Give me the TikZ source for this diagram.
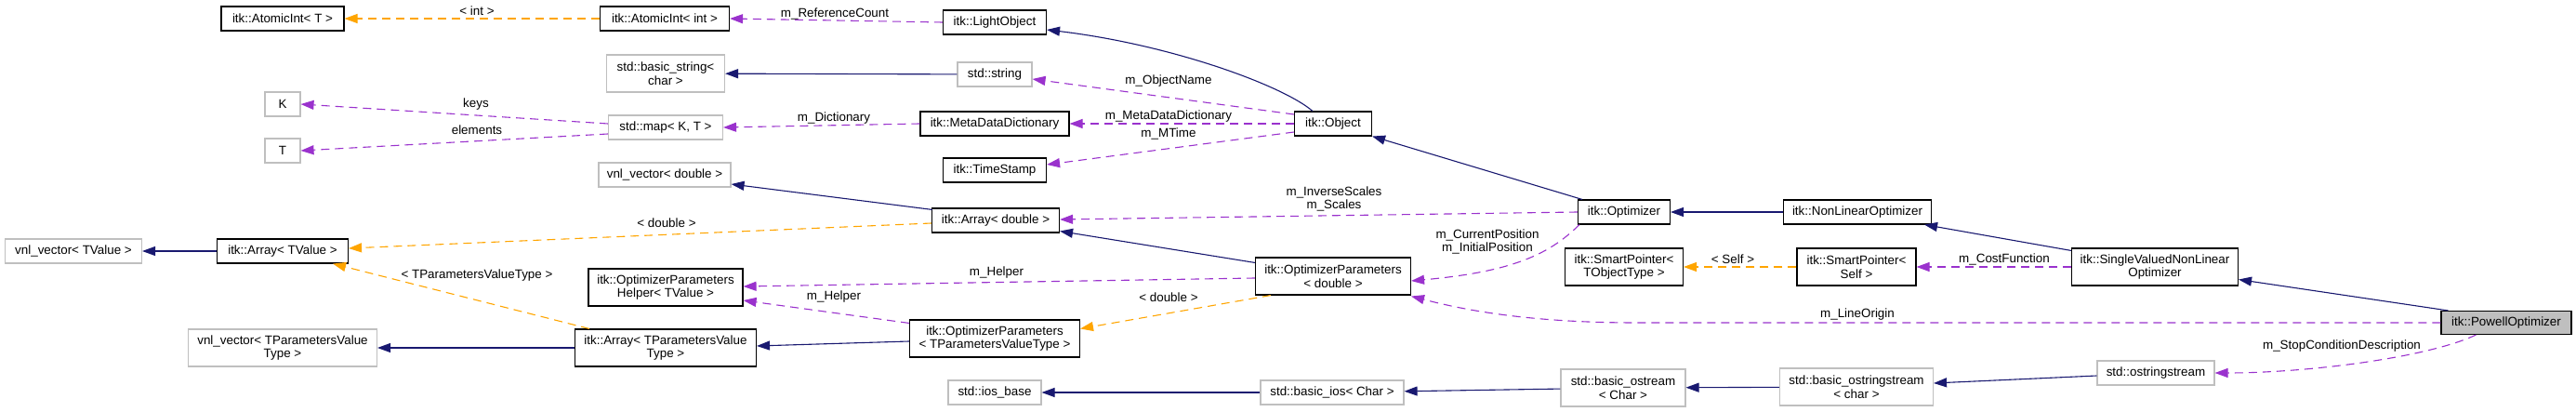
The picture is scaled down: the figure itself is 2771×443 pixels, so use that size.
\documentclass[tikz,border=0pt]{standalone}
\usepackage{fontspec}
\setmainfont{Liberation Sans}
\usetikzlibrary{arrows.meta,calc}
\definecolor{navyc}{HTML}{191970}
\definecolor{mpurple}{HTML}{9A32CD}
\definecolor{morange}{HTML}{FFA500}
\definecolor{ugrey}{HTML}{BFBFBF}
\begin{document}
\begin{tikzpicture}[x=1pt,y=-1pt,
  font=\fontsize{13.4}{14.5}\selectfont,
  box/.style={draw=black, line width=1.1pt, fill=white, inner sep=0pt, align=center, minimum height=26pt},
  twoline/.style={minimum height=40pt},
  undoc/.style={box, draw=ugrey},
  doc/.style={box},
  tip/.style={-{Triangle[length=14pt,width=10pt]}},
  inh/.style={draw=navyc, line width=1.1pt, tip},
  mem/.style={draw=mpurple, line width=1.1pt, dash pattern=on 9pt off 6pt, tip},
  tmpl/.style={draw=morange, line width=1.1pt, dash pattern=on 9pt off 6pt, tip},
  lbl/.style={inner sep=0pt, align=center}]
\useasboundingbox (0,0) rectangle (2771,443);

% nodes
\node[doc, minimum width=132pt] (atomT) at (304,20) {itk::AtomicInt< T >};
\node[doc, minimum width=139pt] (atomI) at (715,20) {itk::AtomicInt< int >};
\node[doc, minimum width=111pt] (light) at (1070,24) {itk::LightObject};
\node[undoc, twoline, minimum width=127pt] (bstr) at (716,79) {std::basic\_string<\\char >};
\node[undoc, minimum width=80pt] (str) at (1070,80) {std::string};
\node[undoc, minimum width=38pt] (K) at (304,112) {K};
\node[undoc, minimum width=38pt] (T) at (304,162) {T};
\node[undoc, minimum width=123pt] (map) at (716,137) {std::map< K, T >};
\node[doc, minimum width=160pt] (mdd) at (1070,133) {itk::MetaDataDictionary};
\node[doc, minimum width=83pt] (obj) at (1434,133) {itk::Object};
\node[doc, minimum width=111pt] (ts) at (1070,183) {itk::TimeStamp};
\node[undoc, minimum width=142pt] (vnld) at (715,188) {vnl\_vector< double >};
\node[doc, minimum width=137pt] (arrd) at (1071,237) {itk::Array< double >};
\node[undoc, minimum width=147pt] (vnlT) at (79,270) {vnl\_vector< TValue >};
\node[doc, minimum width=141pt] (arrT) at (304,270) {itk::Array< TValue >};
\node[doc, twoline, minimum width=166pt] (helper) at (716,309) {itk::OptimizerParameters\\Helper< TValue >};
\node[doc, twoline, minimum width=167pt] (opd) at (1434,297) {itk::OptimizerParameters\\< double >};
\node[doc, minimum width=99pt] (opt) at (1747,228) {itk::Optimizer};
\node[doc, minimum width=159pt] (nlo) at (1998,228) {itk::NonLinearOptimizer};
\node[doc, twoline, minimum width=127pt] (spT) at (1747,287) {itk::SmartPointer<\\TObjectType >};
\node[doc, twoline, minimum width=128pt] (spS) at (1997,287) {itk::SmartPointer<\\Self >};
\node[doc, twoline, minimum width=179pt] (svnlo) at (2318,287) {itk::SingleValuedNonLinear\\Optimizer};
\node[doc, minimum width=140pt, minimum height=25pt, fill=ugrey] (powell) at (2696,347) {itk::PowellOptimizer};
\node[undoc, twoline, minimum width=203pt] (vnlP) at (304,374) {vnl\_vector< TParametersValue\\Type >};
\node[doc, twoline, minimum width=195pt] (arrP) at (716,374) {itk::Array< TParametersValue\\Type >};
\node[doc, twoline, minimum width=183pt] (opP) at (1070,364) {itk::OptimizerParameters\\< TParametersValueType >};
\node[undoc, minimum width=100pt] (iosb) at (1070,422) {std::ios\_base};
\node[undoc, minimum width=154pt] (bios) at (1433,422) {std::basic\_ios< Char >};
\node[undoc, twoline, minimum width=134pt] (bos) at (1746,417) {std::basic\_ostream\\< Char >};
\node[undoc, twoline, minimum width=165pt] (boss) at (1997,416) {std::basic\_ostringstream\\< char >};
\node[undoc, minimum width=126pt] (oss) at (2319,401) {std::ostringstream};

% edges
\draw[tmpl] (atomI) -- (atomT);
\draw[mem] (light.west) -- (atomI.east);
\draw[inh] (str) -- (bstr);
\draw[inh] ($(obj.north west)+(20,0)$) .. controls (1380,92) and (1260,48) .. ($(light.east)+(0,8)$);
\draw[mem] ($(obj.west)+(0,-10)$) -- ($(str.east)+(0,5)$);
\draw[mem] (obj.west) -- (mdd.east);
\draw[mem] ($(obj.west)+(0,9)$) -- ($(ts.east)+(0,-6)$);
\draw[mem] (mdd.west) -- (map.east);
\draw[mem] ($(map.west)+(0,-4)$) -- (K.east);
\draw[mem] ($(map.west)+(0,7)$) -- (T.east);
\draw[inh] ($(arrd.north west)+(1,2)$) -- ($(vnld.east)+(0,10)$);
\draw[tmpl] ($(arrd.west)+(0,3)$) -- ($(arrT.east)+(0,-3)$);
\draw[inh] ($(opt.north west)+(5,0)$) -- (obj.south east);
\draw[mem] (opt.west) -- ($(arrd.east)+(0,-1)$);
\draw[mem] ($(opt.south west)+(2,0)$) .. controls (1668,272) and (1630,292) .. ($(opd.east)+(0,5)$);
\draw[inh] (nlo) -- (opt);
\draw[inh] ($(opd.north west)+(0,6)$) -- ($(arrd.south east)+(0,-2)$);
\draw[mem] ($(opd.west)+(0,2)$) -- ($(helper.east)+(0,-1)$);
\draw[tmpl] ($(opd.south west)+(17,0)$) -- ($(opP.north east)+(0,10)$);
\draw[mem] ($(opP.north west)+(0,4)$) -- ($(helper.east)+(0,14)$);
\draw[inh] ($(opP.west)+(0,3)$) -- ($(arrP.east)+(0,-2)$);
\draw[inh] (arrP) -- (vnlP);
\draw[tmpl] ($(arrP.north west)+(16,0)$) -- ($(arrT.south east)+(-17,0)$);
\draw[inh] (arrT) -- (vnlT);
\draw[tmpl] (spS) -- (spT);
\draw[inh] ($(svnlo.north west)+(0,3)$) -- ($(nlo.south east)+(-8,0)$);
\draw[mem] (svnlo.west) -- (spS.east);
\draw[inh] ($(powell.north west)+(8,0)$) -- ($(svnlo.south east)+(0,-7)$);
\coordinate (lo1) at (1760,347);
\draw[mem] (powell.west) -- (lo1) .. controls (1640,347) and (1570,332) .. ($(opd.south east)+(0,1)$);
\draw[mem] ($(powell.south west)+(38,0)$) .. controls (2610,385) and (2480,401) .. (oss.east);
\draw[inh] ($(oss.west)+(0,3)$) -- ($(boss.east)+(0,-4)$);
\draw[inh] (boss) -- (bos);
\draw[inh] (bos) -- (bios);
\draw[inh] (bios) -- (iosb);

% labels
\node[lbl] (l1) at (513,12) {< int >};
\node[lbl] (l2) at (898,15) {m\_ReferenceCount};
\node[lbl] (l3) at (1257,87) {m\_ObjectName};
\node[lbl] (l4) at (1257,125) {m\_MetaDataDictionary};
\node[lbl] (l5) at (1257,144) {m\_MTime};
\node[lbl] (l6) at (897,127) {m\_Dictionary};
\node[lbl] (l7) at (512,112) {keys};
\node[lbl] (l8) at (513,140) {elements};
\node[lbl] (l9) at (717,240) {< double >};
\node[lbl] (l10) at (1435,214) {m\_InverseScales\\m\_Scales};
\node[lbl] (l11) at (1600,260) {m\_CurrentPosition\\m\_InitialPosition};
\node[lbl] (l12) at (1072,293) {m\_Helper};
\node[lbl] (l13) at (897,319) {m\_Helper};
\node[lbl] (l14) at (1257,320) {< double >};
\node[lbl] (l15) at (513,296) {< TParametersValueType >};
\node[lbl] (l16) at (1864,279) {< Self >};
\node[lbl] (l17) at (2156,279) {m\_CostFunction};
\node[lbl] (l18) at (1998,338) {m\_LineOrigin};
\node[lbl] (l19) at (2519,372) {m\_StopConditionDescription};
\end{tikzpicture}
\end{document}
